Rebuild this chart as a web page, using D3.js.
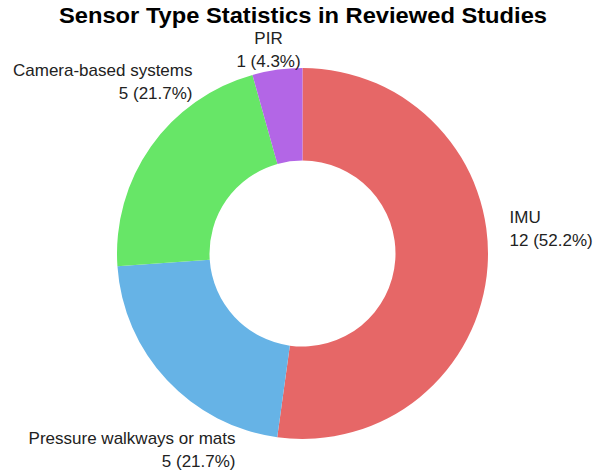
<!DOCTYPE html>
<html>
<head>
<meta charset="utf-8">
<script src="https://cdn.jsdelivr.net/npm/d3@7"></script>
<style>
  body { margin: 0; background: #fff; }
  text { font-family: "Liberation Sans", Arial, sans-serif; fill: #222; }
</style>
</head>
<body>
<svg id="chart"></svg>
<script>
const labels = ['IMU', 'Pressure walkways or mats', 'Camera-based systems', 'PIR'];
const counts = [12, 5, 5, 1];
const colors = ['#e66767', '#66b3e6', '#67e667', '#b366e6'];

const w = 600;
const h = 473;
let svg = d3.select('#chart').attr('width', w).attr('height', h);

let cx = 302.5, cy = 253.5;
let outerR = 185.5, innerR = 93;

let total = d3.sum(counts);
let data = labels.map((l, i) => ({label: l, count: counts[i], color: colors[i]}));

let pie = d3.pie().value(d => d.count).sort(null);
let arc = d3.arc().innerRadius(innerR).outerRadius(outerR);

svg.append('text')
  .attr('x', 303)
  .attr('y', 23)
  .attr('text-anchor', 'middle')
  .attr('textLength', 488)
  .attr('lengthAdjust', 'spacingAndGlyphs')
  .style('font-size', '22px')
  .style('font-weight', 'bold')
  .style('fill', '#000')
  .text('Sensor Type Statistics in Reviewed Studies');

let g = svg.append('g').attr('transform', `translate(${cx}, ${cy})`);

g.selectAll('path')
  .data(pie(data))
  .enter().append('path')
  .attr('d', arc)
  .attr('fill', d => d.data.color);

// label placement, one per slice (anchor + position relative to centre)
let labelPos = [
  {x: 207, y: -31, anchor: 'start'},
  {x: -67, y: 190, anchor: 'end'},
  {x: -110, y: -177.5, anchor: 'end'},
  {x: -34, y: -210, anchor: 'middle'}
];

let fmt = d3.format('.1f');
data.forEach(function(d, i) {
  let p = labelPos[i];
  let t = g.append('text')
    .attr('text-anchor', p.anchor)
    .style('font-size', '17px');
  t.append('tspan').attr('x', p.x).attr('y', p.y).text(d.label);
  t.append('tspan').attr('x', p.x).attr('y', p.y + 23)
    .text(`${d.count} (${fmt(d.count / total * 100)}%)`);
});
</script>
</body>
</html>
